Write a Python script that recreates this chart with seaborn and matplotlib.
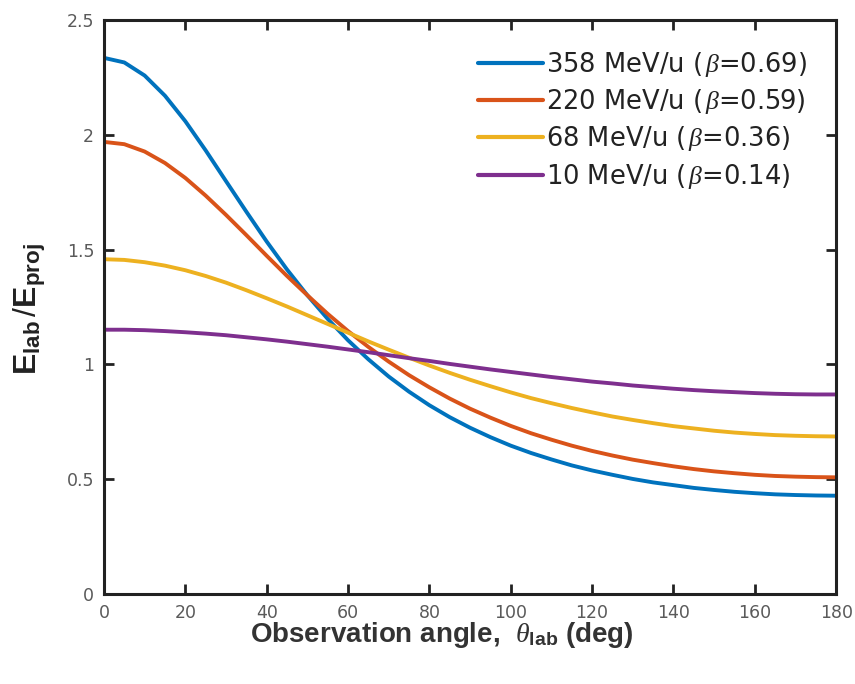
import numpy as np
import pandas as pd
import matplotlib
matplotlib.use("Agg")
import matplotlib.pyplot as plt
import seaborn as sns

angles = [0, 5, 10, 15, 20, 25, 30, 35, 40, 45, 50, 55, 60, 65, 70, 75, 80, 85, 90,
          95, 100, 105, 110, 115, 120, 125, 130, 135, 140, 145, 150, 155, 160, 165, 170, 175, 180]
e358 = [2.335, 2.315, 2.258, 2.170, 2.059, 1.932, 1.798, 1.665, 1.535, 1.413, 1.301, 1.198,
        1.105, 1.022, 0.947, 0.881, 0.822, 0.770, 0.724, 0.683, 0.646, 0.614, 0.586, 0.560,
        0.538, 0.519, 0.501, 0.486, 0.474, 0.462, 0.453, 0.445, 0.439, 0.434, 0.431, 0.429, 0.428]
e220 = [1.969, 1.959, 1.927, 1.877, 1.812, 1.735, 1.651, 1.563, 1.473, 1.385, 1.301, 1.220,
        1.145, 1.076, 1.012, 0.953, 0.900, 0.851, 0.807, 0.768, 0.732, 0.700, 0.672, 0.646,
        0.623, 0.603, 0.585, 0.570, 0.556, 0.544, 0.534, 0.526, 0.519, 0.514, 0.511, 0.509, 0.508]
e68 = [1.458, 1.455, 1.445, 1.430, 1.410, 1.385, 1.356, 1.323, 1.288, 1.252, 1.214, 1.176,
       1.138, 1.100, 1.064, 1.029, 0.995, 0.963, 0.933, 0.905, 0.878, 0.853, 0.831, 0.810,
       0.791, 0.773, 0.758, 0.744, 0.731, 0.721, 0.711, 0.703, 0.697, 0.692, 0.689, 0.687, 0.686]
e10 = [1.151, 1.151, 1.149, 1.145, 1.140, 1.134, 1.127, 1.118, 1.109, 1.099, 1.088, 1.077,
       1.065, 1.053, 1.040, 1.027, 1.015, 1.002, 0.990, 0.978, 0.967, 0.956, 0.945, 0.935,
       0.925, 0.917, 0.908, 0.901, 0.894, 0.888, 0.883, 0.879, 0.875, 0.872, 0.870, 0.869, 0.869]
labels = ["358 MeV/u ($\\,\\beta$=0.69)", "220 MeV/u ($\\,\\beta$=0.59)",
          "68 MeV/u ($\\,\\beta$=0.36)", "10 MeV/u ($\\,\\beta$=0.14)"]
colors = ["#0072BD", "#D95319", "#EDB120", "#7E2F8E"]
xticks = [0, 20, 40, 60, 80, 100, 120, 140, 160, 180]
yticks = [0, 0.5, 1, 1.5, 2, 2.5]
yticklabels = ["0", "0.5", "1", "1.5", "2", "2.5"]

rows = []
for lab, vals in zip(labels, [e358, e220, e68, e10]):
    for a, v in zip(angles, vals):
        rows.append({"angle": a, "ratio": v, "series": lab})
df = pd.DataFrame(rows)

sns.set_style("ticks")
plt.rcParams["font.family"] = ["DejaVu Sans"]
plt.rcParams["mathtext.fontset"] = "custom"
plt.rcParams["mathtext.rm"] = "Liberation Sans"
plt.rcParams["mathtext.bf"] = "Liberation Sans:bold"
plt.rcParams["mathtext.it"] = "Liberation Serif:italic"

fig = plt.figure(figsize=(8.55, 6.84), dpi=100)
ax = fig.add_axes([0.1216, 0.1316, 0.8564, 0.8392])
sns.lineplot(data=df, x="angle", y="ratio", hue="series", hue_order=labels,
             palette=colors, linewidth=2.8, ax=ax, legend=True)

ax.set_xlim(0, 180)
ax.set_ylim(0, 2.5)
ax.set_xticks(xticks)
ax.set_yticks(yticks)
ax.set_yticklabels(yticklabels)
ax.tick_params(direction="in", length=7, width=2, labelsize=12.5, labelcolor="#5a5a5a",
               top=True, right=True, pad=7, color="#222222")
for s in ax.spines.values():
    s.set_linewidth(2.2)
    s.set_color("#222222")

ax.set_xlabel("Observation angle,  $\\theta_{\\mathbf{lab}}$ (deg)", fontsize=20,
              fontweight="bold", color="#333333", family="Liberation Sans")
ax.xaxis.set_label_coords(0.462, -0.046, transform=ax.transAxes)
ax.xaxis.label.set_va("top")
ax.set_ylabel("$\\mathbf{E}_{\\mathbf{lab}}\\,/\\mathbf{E}_{\\mathbf{proj}}$", fontsize=23,
              color="#222222", family="Liberation Sans")
ax.yaxis.set_label_coords(-0.076, 0.497, transform=ax.transAxes)

leg = ax.legend(loc="upper right", frameon=False, fontsize=18.5, handlelength=2.5,
                handletextpad=0.12, labelspacing=0.33, borderaxespad=0.75, borderpad=0.4)
for t in leg.get_texts():
    t.set_color("#222222")
for l in leg.get_lines():
    l.set_linewidth(3)

fig.savefig("out.png", dpi=100)
